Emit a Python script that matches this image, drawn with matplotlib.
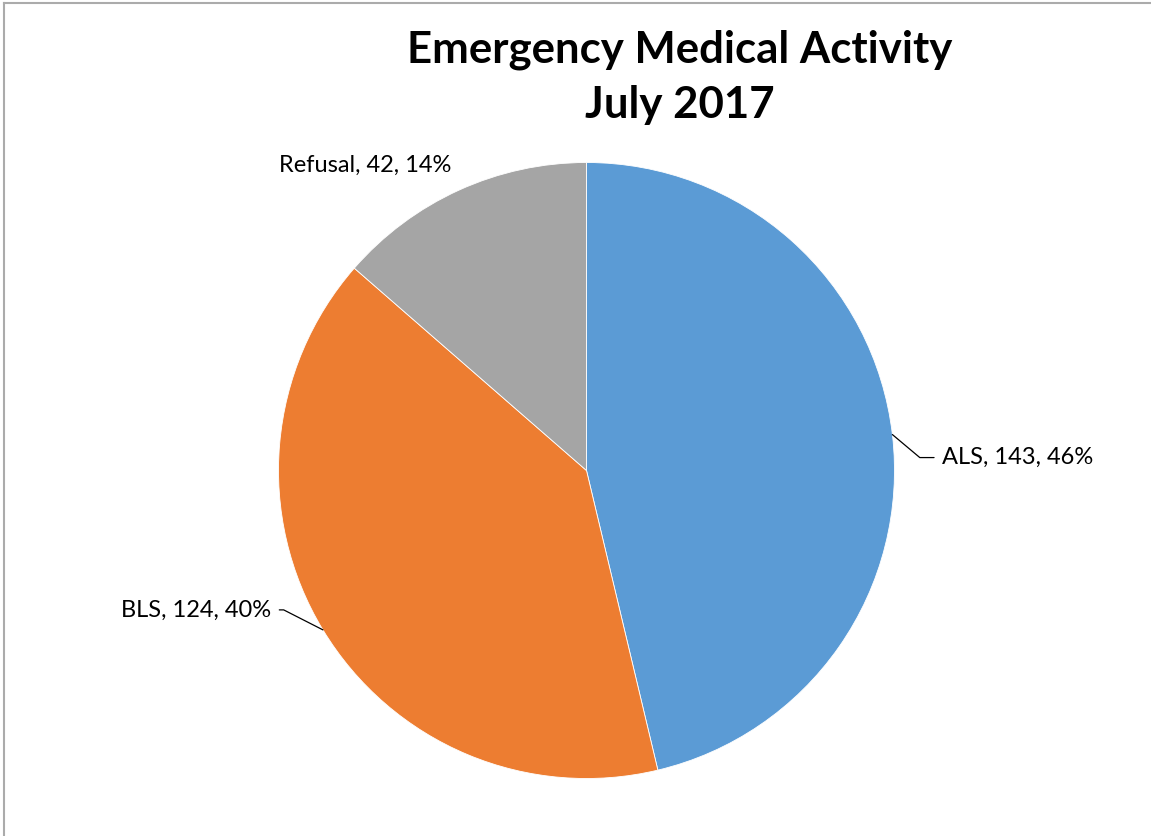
import numpy as np
import matplotlib
matplotlib.use("Agg")
import matplotlib.pyplot as plt
from matplotlib.lines import Line2D

plt.rcParams['font.family'] = ['Lato', 'DejaVu Sans']

# data
categories = ["ALS", "BLS", "Refusal"]
counts = [143, 124, 42]
colors = ["#5B9BD5", "#ED7D31", "#A5A5A5"]

W, H = 1151, 836
fig = plt.figure(figsize=(W / 100, H / 100), dpi=100)

# pie area, in pixels: centre (586.5, 470.5), radius 308
cx, cy, r = 586.5, 470.5, 308
ax = fig.add_axes([(cx - r) / W, (H - cy - r) / H, 2 * r / W, 2 * r / H])
wedges, _ = ax.pie(counts, colors=colors, startangle=90, counterclock=False,
                   radius=1, wedgeprops=dict(edgecolor="white", linewidth=0.6))
ax.set_xlim(-1, 1)
ax.set_ylim(-1, 1)
ax.set_aspect("equal")
ax.axis("off")

total = sum(counts)
# label offsets (pixels) from the wedge's edge midpoint, and leader angle
label_cfg = [
    dict(off=(50, -23), ha="left", leader=True, angB=140),
    dict(off=(-52, 20), ha="right", leader=True, angB=153),
    dict(off=(-94, 25), ha="center", leader=False, angB=0),
]
for w, cat, n, cfg in zip(wedges, categories, counts, label_cfg):
    mid = np.deg2rad((w.theta1 + w.theta2) / 2)
    pt = (np.cos(mid), np.sin(mid))
    pct = round(100 * n / total)
    txt = f"{cat}, {n}, {pct}%"
    arrow = None
    if cfg["leader"]:
        arrow = dict(arrowstyle="-", color="black", lw=0.9, shrinkA=4, shrinkB=0,
                     connectionstyle=f"angle,angleA=0,angleB={cfg['angB']},rad=0")
    ax.annotate(txt, xy=pt, xytext=cfg["off"], textcoords="offset pixels",
                ha=cfg["ha"], va="center", fontsize=17, color="black",
                arrowprops=arrow, annotation_clip=False)

fig.text(680 / W, 1 - 50 / H, "Emergency Medical Activity", ha="center", va="center",
         fontsize=31.5, fontweight="bold", color="black")
fig.text(680 / W, 1 - 105 / H, "July 2017", ha="center", va="center",
         fontsize=31.5, fontweight="bold", color="black")

# chart area border (only top and left visible in the crop)
fig.add_artist(Line2D([3.5 / W, 1], [1 - 2.5 / H, 1 - 2.5 / H], color="#ababab", lw=1.5))
fig.add_artist(Line2D([3.5 / W, 3.5 / W], [0, 1 - 2.5 / H], color="#ababab", lw=1.5))

fig.savefig("out.png", dpi=100)
